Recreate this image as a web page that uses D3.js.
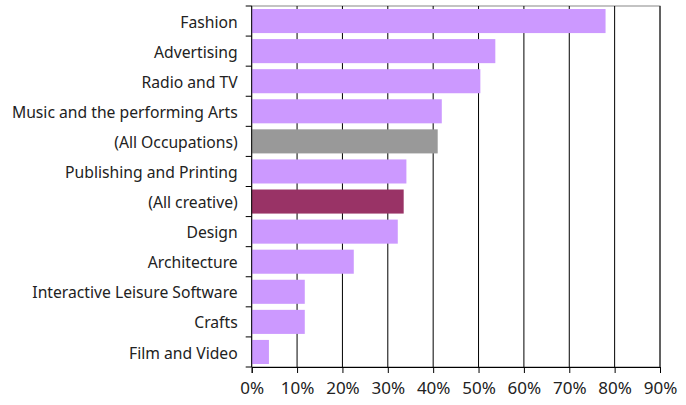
<!DOCTYPE html>
<html>
<head>
<meta charset="utf-8">
<script src="https://cdn.jsdelivr.net/npm/d3@7"></script>
<style>
  html, body { margin: 0; padding: 0; background: #fff; }
  svg text { font-family: "Noto Sans", "Open Sans", sans-serif; }
</style>
</head>
<body>
<svg id="chart" width="686" height="405"></svg>
<script>
// Share of workforce by creative sector
const categories = [
  "Fashion", "Advertising", "Radio and TV", "Music and the performing Arts",
  "(All Occupations)", "Publishing and Printing", "(All creative)", "Design",
  "Architecture", "Interactive Leisure Software", "Crafts", "Film and Video"
];
const values = [78.0, 53.7, 50.4, 41.9, 41.0, 34.1, 33.5, 32.2, 22.5, 11.7, 11.7, 3.8];
const barColors = [
  "#cc99ff", "#cc99ff", "#cc99ff", "#cc99ff", "#999999", "#cc99ff",
  "#993366", "#cc99ff", "#cc99ff", "#cc99ff", "#cc99ff", "#cc99ff"
];
const xTicks = [0, 10, 20, 30, 40, 50, 60, 70, 80, 90];

const margin = { top: 6, right: 26, bottom: 38, left: 251.7 };
const width = 686, height = 405;
const svg = d3.select("#chart");

const x = d3.scaleLinear().domain([0, 90]).range([margin.left, width - margin.right]);
const y = d3.scaleBand().domain(categories)
  .range([margin.top, height - margin.bottom]).paddingInner(0.2).paddingOuter(0.1);

// Plot frame
svg.append("rect")
  .attr("x", x(0)).attr("y", margin.top)
  .attr("width", x(90) - x(0)).attr("height", height - margin.bottom - margin.top)
  .attr("fill", "none").attr("stroke", "#888").attr("stroke-width", 1);

// Vertical gridlines
svg.append("g").selectAll("line").data(xTicks.slice(1))
  .join("line")
  .attr("x1", d => x(d)).attr("x2", d => x(d))
  .attr("y1", margin.top).attr("y2", height - margin.bottom)
  .attr("stroke", "#000").attr("stroke-width", 1);

// Bars
svg.append("g").selectAll("rect").data(categories)
  .join("rect")
  .attr("x", x(0))
  .attr("y", d => y(d))
  .attr("width", (d, i) => x(values[i]) - x(0))
  .attr("height", y.bandwidth())
  .attr("fill", (d, i) => barColors[i]);

// Category axis with ticks between bands
const yAxis = svg.append("g");
yAxis.append("line")
  .attr("x1", x(0)).attr("x2", x(0))
  .attr("y1", margin.top).attr("y2", height - margin.bottom)
  .attr("stroke", "#000");
const bounds = d3.range(categories.length + 1).map(i => margin.top + i * ((height - margin.bottom - margin.top) / categories.length));
yAxis.selectAll("line.tick").data(bounds)
  .join("line").attr("class", "tick")
  .attr("x1", x(0) - 6).attr("x2", x(0))
  .attr("y1", d => d).attr("y2", d => d)
  .attr("stroke", "#000");
yAxis.selectAll("text").data(categories)
  .join("text")
  .attr("x", x(0) - 14)
  .attr("y", d => y(d) + y.bandwidth() / 2)
  .attr("dy", "0.42em")
  .attr("text-anchor", "end")
  .attr("font-size", 15.7)
  .attr("fill", "#222")
  .text(d => d);

// Value axis
const xAxis = svg.append("g")
  .attr("transform", `translate(0,${height - margin.bottom})`)
  .call(d3.axisBottom(x).tickValues(xTicks).tickFormat(d => d + "%").tickSize(6).tickPadding(9));
xAxis.select(".domain").attr("stroke", "#000");
xAxis.selectAll(".tick line").attr("stroke", "#000");
xAxis.selectAll(".tick text")
  .attr("font-size", 17)
  .attr("fill", "#222")
  .style("font-family", "'Noto Sans', 'Open Sans', sans-serif");
</script>
</body>
</html>
